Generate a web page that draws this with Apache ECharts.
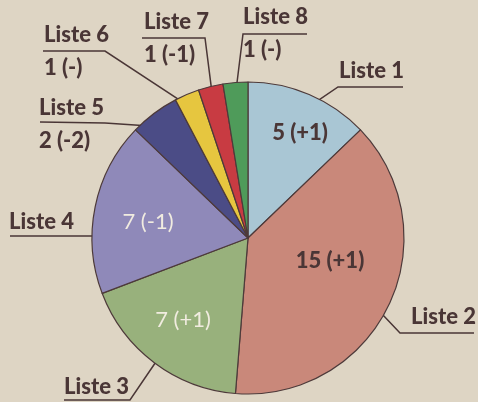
<!DOCTYPE html>
<html>
<head>
<meta charset="utf-8">
<script src="https://cdn.jsdelivr.net/npm/echarts@6/dist/echarts.min.js"></script>
<style>
  html, body { margin: 0; padding: 0; background: #ded5c4; }
  #chart { width: 478px; height: 402px; }
</style>
</head>
<body>
<div id="chart"></div>
<script>
// Sitzverteilung
const lists = ['Liste 1', 'Liste 2', 'Liste 3', 'Liste 4', 'Liste 5', 'Liste 6', 'Liste 7', 'Liste 8'];
const seats = [5, 15, 7, 7, 2, 1, 1, 1];
const changes = ['+1', '+1', '+1', '-1', '-2', '-', '-1', '-'];
const valueInside = [true, true, true, true, false, false, false, false];

const colors = ['#a9c6d4', '#c9887a', '#98b17c', '#8f89b9', '#4b4c86', '#e6c63f', '#c83b42', '#4f9b5a'];
const INK = '#4a3636';
const FONT = 'Lato';

const CX = 248, CY = 238, R = 156;

// layout of outer labels (text top-left, leader line bend + end, start radius fraction)
const outer = [
  { x: 339, y: 57, k: 0.88, bend: [338, 87], end: [403, 87] },
  { x: 411, y: 303, k: 0.8, bend: [400, 333], end: [474, 333] },
  { x: 64, y: 373, k: 0.88, bend: [130, 400], end: [64, 400] },
  { x: 9, y: 208, k: 0.85, ang: 271, bend: [92, 236], end: [10, 236] },
  { x: 39, y: 94, k: 0.89, bend: [105, 123], end: [40, 122] },
  { x: 44, y: 21, k: 0.9, bend: [105, 51], end: [43, 51] },
  { x: 144, y: 8, k: 0.97, bend: [205, 38], end: [142, 38] },
  { x: 243, y: 3, k: 0.95, bend: [243, 34], end: [307, 34] }
];
// centres of the values printed inside the slices
const inner = [[300, 133], [330, 261], [183, 320], [148, 222]];

const total = seats.reduce((a, b) => a + b, 0);
function midAngle(i) {
  let acc = 0;
  for (let j = 0; j < i; j++) acc += seats[j];
  return (acc + seats[i] / 2) / total * 360;
}

const chart = echarts.init(document.getElementById('chart'), null, { renderer: 'canvas' });

const option = {
  backgroundColor: '#ded5c4',
  animation: false,
  series: [
    {
      type: 'pie',
      center: [CX, CY],
      radius: R,
      startAngle: 90,
      clockwise: true,
      avoidLabelOverlap: false,
      silent: true,
      itemStyle: { borderColor: '#4d3a3a', borderWidth: 1.2 },
      label: {
        show: true,
        position: 'outside',
        fontFamily: FONT,
        color: INK,
        formatter: function (p) {
          const i = p.dataIndex;
          if (valueInside[i]) return '{n|' + lists[i] + '}';
          return '{n|' + lists[i] + '}\n{v|' + seats[i] + ' (' + changes[i] + ')}';
        },
        rich: {
          n: { fontFamily: FONT, fontSize: 22, fontWeight: 900, color: INK, lineHeight: 28 },
          v: { fontFamily: FONT, fontSize: 22, fontWeight: 900, color: INK, lineHeight: 38 }
        }
      },
      labelLine: {
        show: true,
        showAbove: true,
        smooth: false,
        lineStyle: { color: INK, width: 1.5 }
      },
      labelLayout: function (params) {
        const o = outer[params.dataIndex];
        const a = (o.ang != null ? o.ang : midAngle(params.dataIndex)) * Math.PI / 180;
        const start = [CX + Math.sin(a) * R * o.k, CY - Math.cos(a) * R * o.k];
        return {
          x: o.x,
          y: o.y,
          align: 'left',
          verticalAlign: 'top',
          labelLinePoints: [start, o.bend, o.end]
        };
      },
      data: lists.map((name, i) => ({
        name: name,
        value: seats[i],
        itemStyle: { color: colors[i] }
      }))
    },
    {
      type: 'pie',
      center: [CX, CY],
      radius: R,
      startAngle: 90,
      clockwise: true,
      silent: true,
      avoidLabelOverlap: false,
      itemStyle: { color: 'rgba(0,0,0,0)', borderWidth: 0 },
      label: {
        position: 'inside',
        fontFamily: FONT,
        fontSize: 22,
        formatter: function (p) {
          return seats[p.dataIndex] + ' (' + changes[p.dataIndex] + ')';
        }
      },
      labelLine: { show: false },
      labelLayout: function (params) {
        const c = inner[params.dataIndex];
        if (!c) return {};
        return { x: c[0], y: c[1], align: 'center', verticalAlign: 'middle' };
      },
      data: lists.map((name, i) => ({
        name: name,
        value: seats[i],
        label: {
          show: valueInside[i],
          color: i < 2 ? INK : '#f1ece0',
          fontWeight: i < 2 ? 900 : 'normal'
        }
      }))
    }
  ]
};

chart.setOption(option);
window.addEventListener('resize', () => chart.resize());
</script>
</body>
</html>
